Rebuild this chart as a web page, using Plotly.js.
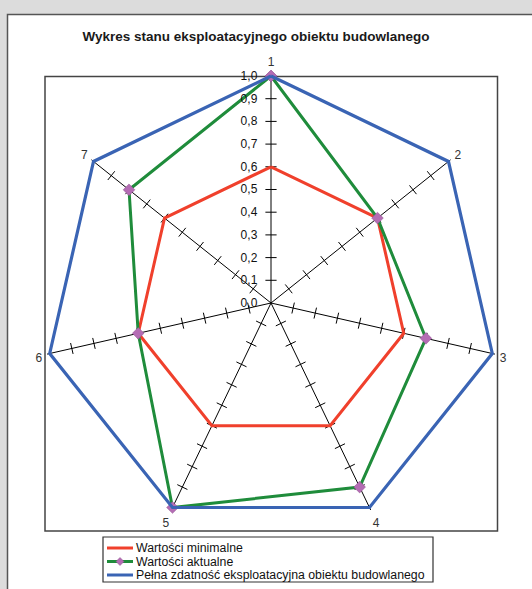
<!DOCTYPE html>
<html>
<head>
<meta charset="utf-8">
<script src="https://cdn.plot.ly/plotly-3.0.1.min.js"></script>
<style>
  html, body { margin: 0; padding: 0; background: #dcdcdc; }
  #chart { width: 532px; height: 589px; }
</style>
</head>
<body>
<div id="chart"></div>
<script>
// ---- data ----
const categories = ['1', '2', '3', '4', '5', '6', '7'];
const minValues = [0.6, 0.6, 0.6, 0.6, 0.6, 0.6, 0.6];
const actualValues = [1.0, 0.6, 0.7, 0.9, 1.0, 0.6, 0.8];
const fullValues = [1.0, 1.0, 1.0, 1.0, 1.0, 1.0, 1.0];
const radialTicks = [0.0, 0.1, 0.2, 0.3, 0.4, 0.5, 0.6, 0.7, 0.8, 0.9, 1.0];
const radialTickLabels = ['0,0', '0,1', '0,2', '0,3', '0,4', '0,5', '0,6', '0,7', '0,8', '0,9', '1,0'];
const seriesNames = [
  'Wartości minimalne',
  'Wartości aktualne',
  'Pełna zdatność eksploatacyjna obiektu budowlanego'
];
const seriesColors = ['#f0402c', '#1f8c3b', '#3a64b4'];
const chartTitle = 'Wykres stanu eksploatacyjnego obiektu budowlanego';

// ---- helpers ----
const W = 532, H = 589;
const px = x => x / W;
const py = y => 1 - y / H;
const closeLoop = arr => arr.concat([arr[0]]);

// tick marks crossing every spoke
const tickR = [], tickTheta = [], tickAngle = [];
categories.forEach((c, i) => {
  radialTicks.forEach(t => {
    if (t > 0 && t < 1) {
      tickR.push(t);
      tickTheta.push(c);
      tickAngle.push(i * 360 / categories.length);
    }
  });
});

const font = 'Liberation Sans, Arial, sans-serif';
const diamondColor = '#b46cb4';

// radial range padded slightly so the outer (r = 1) outline is not clipped
const rMax = 1.012;
const cx0 = 271, cy0 = 303, R1 = 227;      // centre and radius of r = 1 in px
const Rd = R1 * rMax;

const traces = [
  {
    type: 'scatterpolar', mode: 'markers', r: tickR, theta: tickTheta,
    marker: { symbol: 'line-ew', size: 8, angle: tickAngle, line: { color: '#000', width: 1 } },
    showlegend: false, hoverinfo: 'skip', cliponaxis: false
  },
  {
    type: 'scatterpolar', mode: 'lines', name: seriesNames[0],
    r: closeLoop(minValues), theta: closeLoop(categories),
    line: { color: seriesColors[0], width: 3 }, hoverinfo: 'skip', cliponaxis: false
  },
  {
    type: 'scatterpolar', mode: 'lines+markers', name: seriesNames[1],
    r: closeLoop(actualValues), theta: closeLoop(categories),
    line: { color: seriesColors[1], width: 3 },
    marker: { symbol: 'diamond', size: 9, color: diamondColor, line: { color: '#8e4f8e', width: 0.5 } },
    hoverinfo: 'skip', cliponaxis: false
  },
  {
    type: 'scatterpolar', mode: 'lines', name: seriesNames[2],
    r: closeLoop(fullValues), theta: closeLoop(categories),
    line: { color: seriesColors[2], width: 3.2 }, hoverinfo: 'skip', cliponaxis: false
  }
];

// manual legend (Excel-style compact box)
const legBox = { x0: 103, y0: 537, x1: 433, y1: 582 };
const legRows = [548, 561.5, 575];
const legShapes = [
  { type: 'rect', xref: 'paper', yref: 'paper',
    x0: px(legBox.x0), y0: py(legBox.y0), x1: px(legBox.x1), y1: py(legBox.y1),
    fillcolor: '#fff', line: { color: '#333', width: 1.2 } }
];
const legAnnotations = [];
seriesNames.forEach((name, i) => {
  legShapes.push({ type: 'line', xref: 'paper', yref: 'paper',
    x0: px(107), x1: px(133), y0: py(legRows[i]), y1: py(legRows[i]),
    line: { color: seriesColors[i], width: 3 } });
  legAnnotations.push({ xref: 'paper', yref: 'paper', x: px(134), y: py(legRows[i]),
    xanchor: 'left', yanchor: 'middle', showarrow: false, text: name,
    font: { family: font, size: 12.3, color: '#111' } });
});
// diamond marker sample in legend
{
  const cx = 120, cy = legRows[1], d = 4;
  legShapes.push({ type: 'path', xref: 'paper', yref: 'paper',
    path: `M ${px(cx)} ${py(cy - d)} L ${px(cx + d)} ${py(cy)} L ${px(cx)} ${py(cy + d)} L ${px(cx - d)} ${py(cy)} Z`,
    fillcolor: diamondColor, line: { color: '#8e4f8e', width: 0.5 } });
}

const layout = {
  width: W, height: H,
  margin: { l: 0, r: 0, t: 0, b: 0 },
  paper_bgcolor: '#dcdcdc',
  separators: ', ',
  font: { family: font, size: 11, color: '#000' },
  title: {
    text: '<b>' + chartTitle + '</b>',
    font: { family: font, size: 13.5, color: '#1a1a1a' },
    x: px(256), xanchor: 'center', y: py(36), yanchor: 'middle'
  },
  polar: {
    domain: { x: [px(cx0 - Rd), px(cx0 + Rd)], y: [py(cy0 + Rd), py(cy0 - Rd)] },
    bgcolor: 'rgba(0,0,0,0)',
    gridshape: 'linear',
    angularaxis: {
      type: 'category', categoryarray: categories,
      direction: 'clockwise', rotation: 90,
      showline: false, showgrid: true, gridcolor: '#000', gridwidth: 1,
      ticks: 'outside', ticklen: 2, tickcolor: 'rgba(0,0,0,0)',
      tickfont: { family: font, size: 12, color: '#333' }
    },
    radialaxis: {
      range: [0, rMax], angle: 90, tickangle: 90, side: 'counterclockwise',
      tickvals: radialTicks, ticktext: radialTickLabels,
      showgrid: false, showline: false,
      ticks: 'outside', ticklen: 9, tickcolor: 'rgba(0,0,0,0)',
      tickfont: { family: font, size: 12, color: '#111' }
    }
  },
  showlegend: false,
  annotations: legAnnotations,
  shapes: [
    { type: 'rect', xref: 'paper', yref: 'paper', layer: 'below',
      x0: px(7.5), y0: py(14.5), x1: 1.02, y1: -0.02,
      fillcolor: '#fff', line: { color: '#555', width: 1.5 } },
    { type: 'rect', xref: 'paper', yref: 'paper', layer: 'below',
      x0: px(45), y0: py(76.5), x1: px(497.5), y1: py(531),
      fillcolor: 'rgba(0,0,0,0)', line: { color: '#444', width: 1.5 } }
  ].concat(legShapes)
};

Plotly.newPlot('chart', traces, layout, { displayModeBar: false, staticPlot: true });
</script>
</body>
</html>
